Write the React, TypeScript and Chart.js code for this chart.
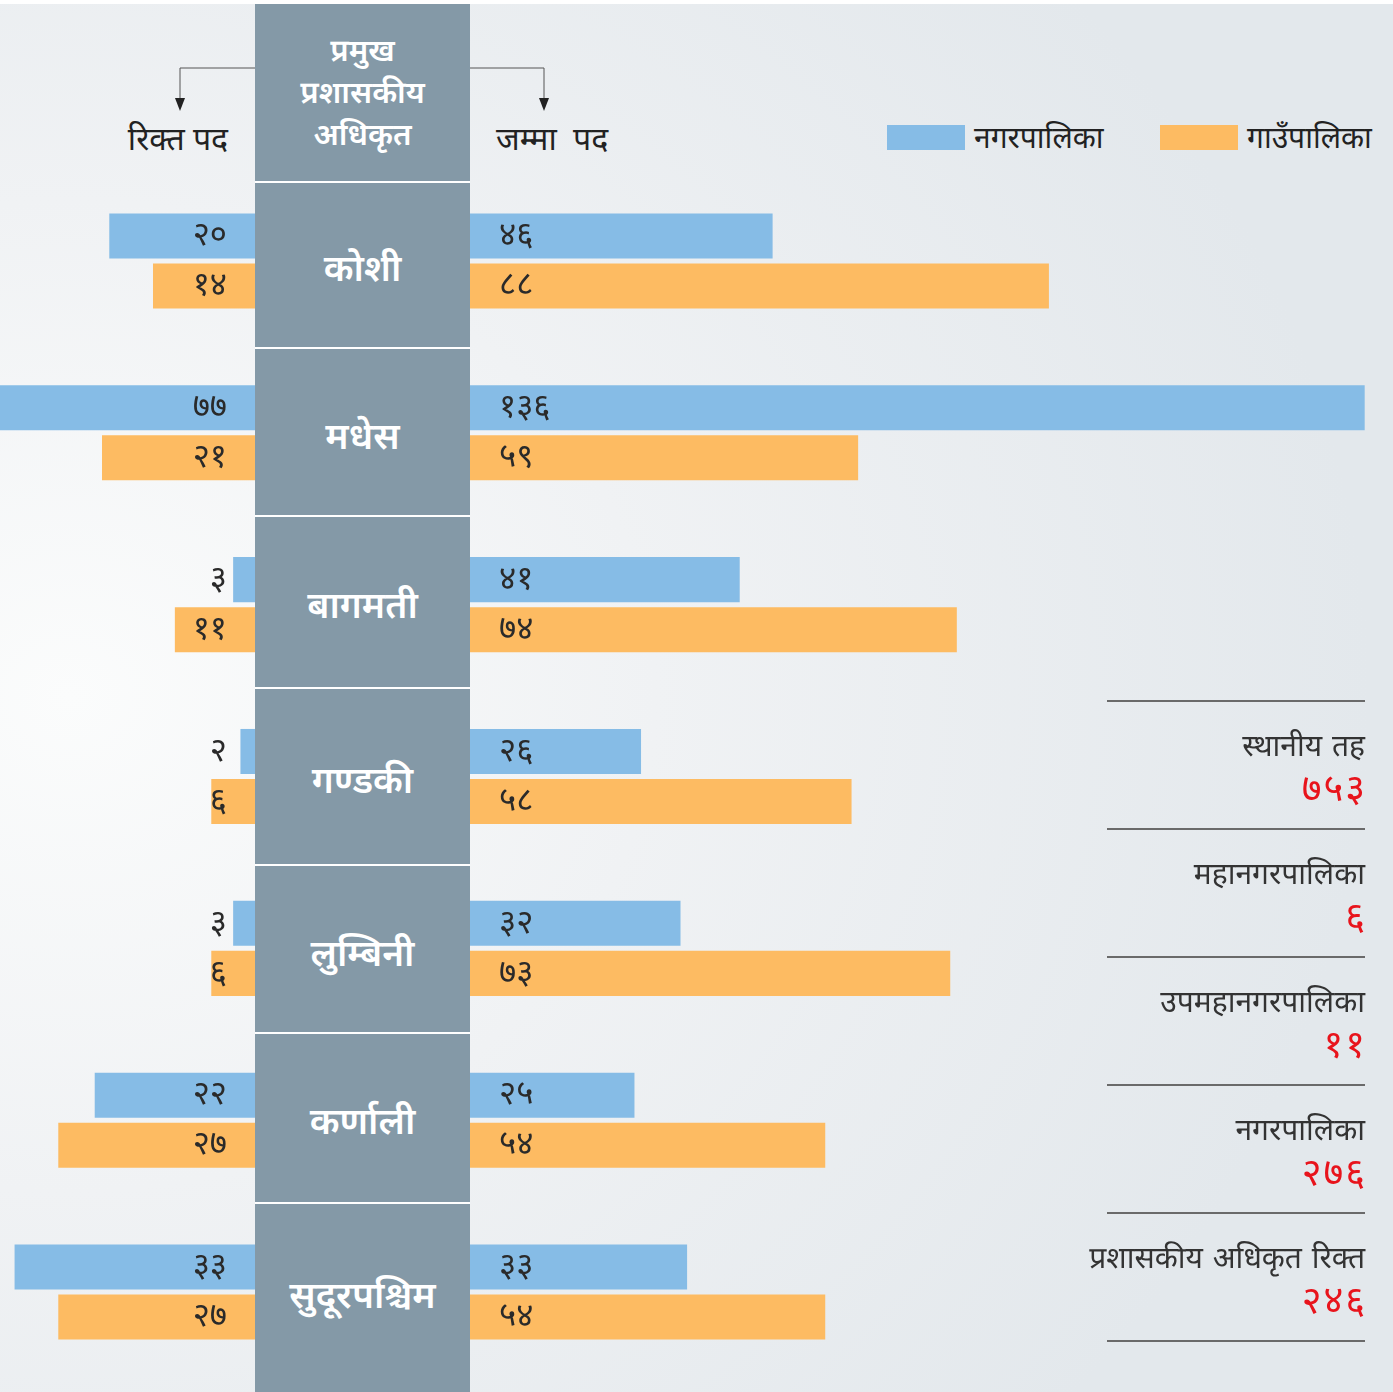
import React, { useEffect, useRef } from 'react';
import { Chart, registerables } from 'chart.js';
Chart.register(...registerables);

const provinces = ['कोशी', 'मधेस', 'बागमती', 'गण्डकी', 'लुम्बिनी', 'कर्णाली', 'सुदूरपश्चिम'];
const vacantNagar = [20, 77, 3, 2, 3, 22, 33];
const vacantGaun = [14, 21, 11, 6, 6, 27, 27];
const totalNagar = [46, 136, 41, 26, 32, 25, 33];
const totalGaun = [88, 59, 74, 58, 73, 54, 54];
const seriesNames = ['नगरपालिका', 'गाउँपालिका'];
const statLabels = ['स्थानीय तह', 'महानगरपालिका', 'उपमहानगरपालिका', 'नगरपालिका', 'प्रशासकीय अधिकृत रिक्त'];
const statValues = [753, 6, 11, 276, 246];
const headerLines = ['प्रमुख', 'प्रशासकीय', 'अधिकृत'];
const leftTitle = 'रिक्त पद';
const rightTitle = 'जम्मा पद';

const BLUE = '#86bce6';
const ORANGE = '#fdbb62';
const GRAY = '#8499a7';
const FONT = "'Noto Sans Devanagari', 'Noto Sans', sans-serif";

const devDigits = ['०', '१', '२', '३', '४', '५', '६', '७', '८', '९'];
const toDev = (n: number) => String(n).split('').map((c) => devDigits[+c] ?? c).join('');

const labelPlugin = (side: 'left' | 'right') => ({
  id: 'barLabels' + side,
  afterDatasetsDraw(chart: any) {
    const ctx = chart.ctx;
    ctx.save();
    ctx.font = `33px ${FONT}`;
    ctx.fillStyle = '#2a2a2a';
    ctx.textBaseline = 'middle';
    chart.data.datasets.forEach((ds: any, di: number) => {
      const meta = chart.getDatasetMeta(di);
      meta.data.forEach((bar: any, i: number) => {
        const v = ds.data[i];
        if (side === 'left') {
          ctx.textAlign = 'right';
          ctx.fillText(toDev(v), chart.chartArea.right - 28, bar.y + 3);
        } else {
          ctx.textAlign = 'left';
          ctx.fillText(toDev(v), chart.chartArea.left + 29, bar.y + 3);
        }
      });
    });
    ctx.restore();
  },
});

function makeConfig(a: number[], b: number[], max: number, side: 'left' | 'right'): any {
  return {
    type: 'bar',
    data: {
      labels: provinces,
      datasets: [
        { label: seriesNames[0], data: a, backgroundColor: BLUE, categoryPercentage: 100 / 171.7, barPercentage: 0.9 },
        { label: seriesNames[1], data: b, backgroundColor: ORANGE, categoryPercentage: 100 / 171.7, barPercentage: 0.9 },
      ],
    },
    options: {
      indexAxis: 'y',
      animation: false,
      responsive: false,
      maintainAspectRatio: false,
      layout: { padding: 0 },
      plugins: { legend: { display: false }, tooltip: { enabled: false } },
      scales: {
        x: { display: false, min: 0, max, reverse: side === 'left' },
        y: { display: false },
      },
    },
    plugins: [labelPlugin(side)],
  };
}

function BarCanvas({ a, b, max, side, style }: any) {
  const ref = useRef<HTMLCanvasElement>(null);
  useEffect(() => {
    const chart = new Chart(ref.current!, makeConfig(a, b, max, side));
    return () => chart.destroy();
  }, []);
  return <canvas ref={ref} width={style.width} height={style.height} style={{ position: 'absolute', ...style }} />;
}

const sepYs = [182, 348, 516, 688, 865, 1033, 1203];
const nameYs = [268, 436, 605, 780, 953, 1121, 1295];

export default function App() {
  useEffect(() => {
    document.body.style.margin = '0';
  }, []);
  const abs: any = { position: 'absolute' };
  return (
    <div
      style={{
        position: 'relative',
        width: 1393,
        height: 1392,
        overflow: 'hidden',
        fontFamily: FONT,
        background: 'radial-gradient(ellipse 1300px 1100px at 5% 50%, #fbfcfc 0%, #f0f2f4 45%, #e3e8ec 100%)',
      }}
    >
      <div style={{ ...abs, left: 0, top: 0, width: 1393, height: 4, background: '#fff' }} />
      {/* center column */}
      <div style={{ ...abs, left: 255, top: 4, width: 215, height: 1388, background: GRAY }} />
      {sepYs.map((y, i) => (
        <div key={i} style={{ ...abs, left: 255, top: y - 1, width: 215, height: 2, background: '#fff' }} />
      ))}
      {headerLines.map((t, i) => (
        <div key={i} style={{ ...abs, left: 255, width: 215, top: 54 + i * 42 - 22, height: 44, lineHeight: '44px', textAlign: 'center', color: '#fff', fontWeight: 600, fontSize: 31 }}>
          {t}
        </div>
      ))}
      {provinces.map((p, i) => (
        <div key={i} style={{ ...abs, left: 255, width: 215, top: nameYs[i] + 4 - 25, height: 50, lineHeight: '50px', textAlign: 'center', color: '#fff', fontWeight: 600, fontSize: 37 }}>
          {p}
        </div>
      ))}
      {/* arrows */}
      <svg style={{ ...abs, left: 0, top: 0 }} width={1393} height={200}>
        <polyline points="255,68 180,68 180,102" fill="none" stroke="#555" strokeWidth={1} />
        <polygon points="175,98 185,98 180,111" fill="#222" />
        <polyline points="470,68 544,68 544,102" fill="none" stroke="#555" strokeWidth={1} />
        <polygon points="539,98 549,98 544,111" fill="#222" />
      </svg>
      <div style={{ ...abs, left: 78, width: 200, top: 120, height: 44, lineHeight: '44px', textAlign: 'center', fontSize: 32, color: '#222' }}>{leftTitle}</div>
      <div style={{ ...abs, left: 496, top: 120, height: 44, lineHeight: '44px', fontSize: 32, wordSpacing: 8, color: '#222', whiteSpace: 'nowrap' }}>{rightTitle}</div>
      {/* legend */}
      {seriesNames.map((s, i) => (
        <React.Fragment key={i}>
          <div style={{ ...abs, left: 887 + i * 273, top: 125, width: 78, height: 25, background: i === 0 ? BLUE : ORANGE }} />
          <div style={{ ...abs, left: 974 + i * 273, top: 119, height: 44, lineHeight: '44px', fontSize: 30, color: '#222', whiteSpace: 'nowrap' }}>{s}</div>
        </React.Fragment>
      ))}
      {/* charts */}
      <BarCanvas a={vacantNagar} b={vacantGaun} max={35} side="left" style={{ left: 0, top: 175, width: 255, height: 1203 }} />
      <BarCanvas a={totalNagar} b={totalGaun} max={140} side="right" style={{ left: 470, top: 175, width: 921, height: 1203 }} />
      {/* stats panel */}
      {[0, 1, 2, 3, 4, 5].map((i) => (
        <div key={i} style={{ ...abs, left: 1107, top: 701 + i * 128 - 1, width: 258, height: 1.5, background: '#6a6a6a' }} />
      ))}
      {statLabels.map((l, i) => (
        <React.Fragment key={i}>
          <div style={{ ...abs, right: 1393 - 1365, top: 701 + i * 128 + 48 - 20, height: 40, lineHeight: '40px', fontSize: 30, wordSpacing: 2, color: '#333', whiteSpace: 'nowrap', textAlign: 'right' }}>{l}</div>
          <div style={{ ...abs, right: 1393 - 1367, top: 701 + i * 128 + 91 - 22, height: 44, lineHeight: '44px', fontSize: 38, color: '#e8141c', whiteSpace: 'nowrap', textAlign: 'right', letterSpacing: 2 }}>{toDev(statValues[i])}</div>
        </React.Fragment>
      ))}
    </div>
  );
}
